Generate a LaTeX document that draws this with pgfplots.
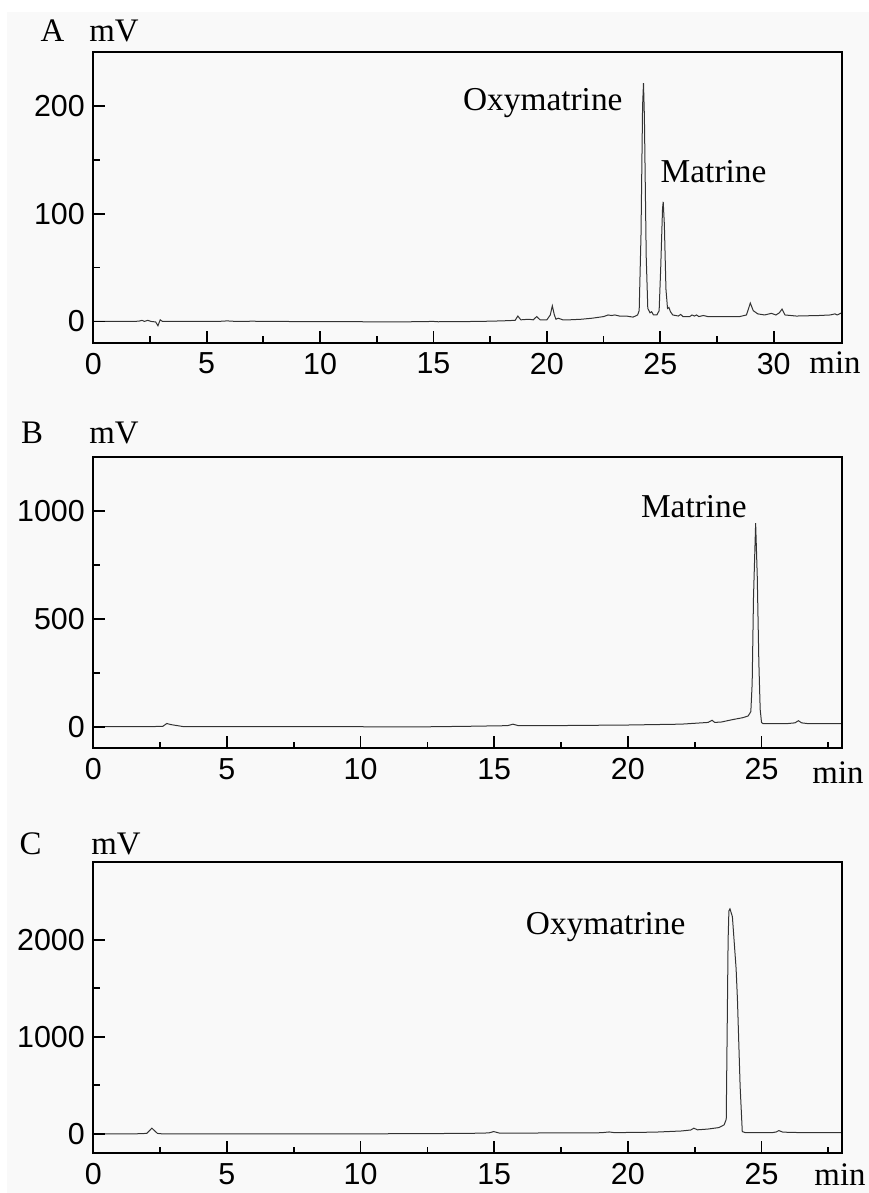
\documentclass[border=0pt]{standalone}
\usepackage{fontspec}
\setmainfont{Liberation Serif}
\newfontfamily\arial{Liberation Sans}
\usepackage{pgfplots}
\pgfplotsset{compat=1.18}
\definecolor{bgc}{HTML}{F9F9F9}
\definecolor{tracec}{HTML}{333333}

\pgfplotsset{chrom/.style={
    scale only axis, width=748.4bp, height=291bp,
    xmin=0, xtick={0,5,...,30}, minor x tick num=1,
    minor y tick num=1,
    tick align=inside, xtick pos=bottom, ytick pos=left,
    major tick length=12bp, minor tick length=6.5bp,
    axis line style={line width=2.2bp},
    major tick style={draw=black, line width=1.8bp},
    minor tick style={draw=black, line width=1.8bp},
    axis on top,
    /pgf/number format/assume math mode=true,
    /pgf/number format/1000 sep={},
    tick label style={font=\arial\fontsize{30.5}{30.5}\selectfont},
    xticklabel style={yshift=-6.5bp},
    yticklabel style={xshift=-5bp},
  },
}
\tikzset{
  trace/.style={color=tracec, line width=1bp},
  tk/.style={black, line width=1.8bp},
  peak/.style={font=\fontsize{33.5}{33.5}\selectfont, anchor=base},
  unit/.style={font=\fontsize{33}{33}\selectfont, anchor=base},
}

\begin{document}
\begin{tikzpicture}
\useasboundingbox (0,0) rectangle (869bp,1193bp);
\fill[bgc] (7bp,0) rectangle (869bp,1181bp);

% A: sample
\begin{axis}[chrom, at={(93.3bp,850bp)}, anchor=south west,
    xmax=33, ymin=-20, ymax=250, ytick={0,100,200}]
  \addplot[trace] coordinates {
    (0,0) (1.5,0) (2.0,0.2) (2.15,1) (2.25,0) (2.4,1) (2.55,0) (2.75,-0.5)
    (2.85,-4) (2.95,1.5) (3.05,0) (4,0) (5.5,0) (5.9,0.5) (6.3,0) (7,0.2)
    (8,0) (10,-0.2) (12,-0.3) (14,-0.3) (15,0) (15.2,-0.3) (17,0) (18,0.5)
    (18.6,1) (18.72,5) (18.85,1.5) (19.2,2) (19.4,1.5) (19.55,4.5) (19.7,1.5)
    (20.0,1.5) (20.15,6) (20.24,14.5) (20.33,6) (20.4,2) (20.5,3) (20.7,1.5)
    (21,1.5) (21.5,2) (22,3) (22.5,4.5) (22.7,6) (22.85,5.5) (23,6) (23.2,5)
    (23.5,5) (23.8,4) (24.0,6) (24.07,10) (24.15,80) (24.22,200) (24.26,221)
    (24.3,190) (24.38,60) (24.45,12) (24.55,8) (24.62,9) (24.7,6) (24.85,6)
    (24.95,10) (25.02,50) (25.1,105) (25.13,111) (25.18,90) (25.25,30)
    (25.32,12) (25.38,13) (25.45,9) (25.55,6) (25.8,5) (25.9,6.5) (26.0,4.5)
    (26.3,4.5) (26.4,6) (26.5,5) (26.6,6) (26.7,4.5) (26.9,5.5) (27.1,4.5)
    (28,4.5) (28.5,4.5) (28.8,6) (28.97,17) (29.1,10) (29.3,7) (29.6,6)
    (29.9,7.5) (30.1,6) (30.25,8) (30.37,11.5) (30.5,6) (31,5) (32,5.5)
    (32.5,6) (32.7,7) (32.8,6) (33,8)
  };
  % major ticks, drawn again by hand (about 12 px long)
  \pgfplotsinvokeforeach{5,10,15,20,25,30}{\draw[tk] (axis cs:#1,-20) -- (axis cs:#1,-8.9);}
  \pgfplotsinvokeforeach{0,100,200}{\draw[tk] (axis cs:0,#1) -- (axis cs:0.53,#1);}
  \node[peak] at (axis cs:19.82,195.7) {Oxymatrine};
  \node[peak] at (axis cs:27.35,129) {Matrine};
\end{axis}
\node[unit] at (52.5bp,1151.3bp) {A};
\node[unit] at (114bp,1151.3bp) {mV};
\node[unit] at (835bp,819.7bp) {min};

% B: matrine standard
\begin{axis}[chrom, at={(93.3bp,444.7bp)}, anchor=south west,
    xmax=28, ymin=-100, ymax=1250, ytick={0,500,1000}]
  \addplot[trace] coordinates {
    (0,0) (2.0,0) (2.6,2) (2.75,15) (2.9,10) (3.2,4) (3.4,0) (5,0) (8,0)
    (10,0) (12,-1) (14,2) (15.5,5) (15.7,12) (15.9,5) (17,5) (20,8) (22,12)
    (23,20) (23.15,30) (23.25,20) (23.5,22) (23.8,30) (24.0,35) (24.3,42)
    (24.5,50) (24.6,70) (24.65,200) (24.7,600) (24.78,944) (24.84,700)
    (24.9,300) (24.95,80) (25.0,20) (25.05,15) (26,15) (26.25,18) (26.38,28)
    (26.5,18) (26.7,15) (28,15)
  };
  \pgfplotsinvokeforeach{5,10,15,20,25}{\draw[tk] (axis cs:#1,-100) -- (axis cs:#1,-44.4);}
  \pgfplotsinvokeforeach{0,500,1000}{\draw[tk] (axis cs:0,#1) -- (axis cs:0.45,#1);}
  \node[peak] at (axis cs:22.47,969) {Matrine};
\end{axis}
\node[unit] at (32bp,749bp) {B};
\node[unit] at (114bp,749bp) {mV};
\node[unit] at (838bp,409.7bp) {min};

% C: oxymatrine standard
\begin{axis}[chrom, at={(93.3bp,39.7bp)}, anchor=south west,
    xmax=28, ymin=-200, ymax=2800, ytick={0,1000,2000}]
  \addplot[trace] coordinates {
    (0,0) (1.5,0) (2.0,5) (2.19,59) (2.4,5) (2.6,0) (5,0) (10,0) (12,3)
    (14,5) (14.8,10) (14.98,24) (15.2,8) (16,8) (17,10) (18,10) (19,12)
    (19.3,20) (19.5,13) (21,18) (22,30) (22.35,40) (22.47,59) (22.6,42)
    (23.0,50) (23.4,65) (23.6,93) (23.68,150) (23.72,1200) (23.75,2000)
    (23.78,2300) (23.82,2320) (23.91,2240) (24.05,1700) (24.1,1381)
    (24.2,488) (24.28,24) (24.4,13) (25.4,13) (25.55,20) (25.65,34)
    (25.8,18) (26.5,13) (28,13)
  };
  \pgfplotsinvokeforeach{5,10,15,20,25}{\draw[tk] (axis cs:#1,-200) -- (axis cs:#1,-77);}
  \pgfplotsinvokeforeach{0,1000,2000}{\draw[tk] (axis cs:0,#1) -- (axis cs:0.45,#1);}
  \node[peak] at (axis cs:19.17,2059) {Oxymatrine};
\end{axis}
\node[unit] at (30.5bp,338bp) {C};
\node[unit] at (116bp,338bp) {mV};
\node[unit] at (840bp,8bp) {min};
\end{tikzpicture}
\end{document}
